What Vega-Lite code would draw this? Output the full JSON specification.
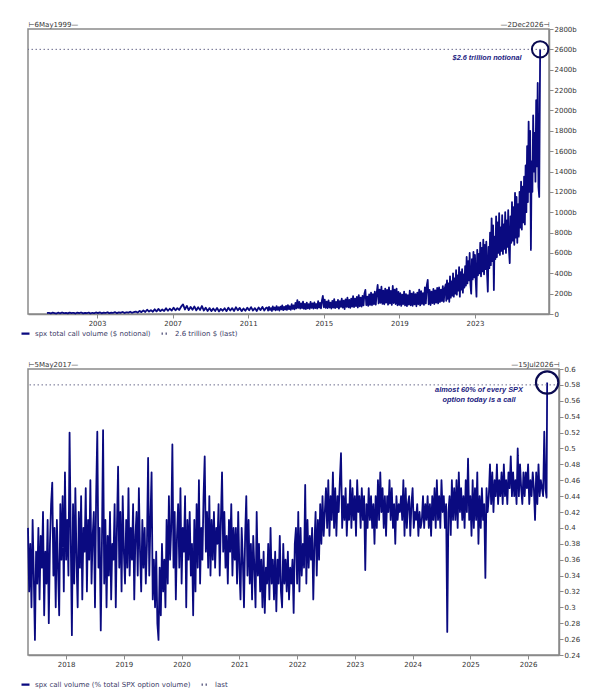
{
"$schema":"https://vega.github.io/schema/vega-lite/v6.json",
"padding":{"left":19,"top":19,"right":0,"bottom":0},
"background":"white",
"spacing":20,
"datasets":{
"top":[{"t":2000.35,"v":8},{"t":2000.45,"v":12},{"t":2000.55,"v":6},{"t":2000.65,"v":14},{"t":2000.75,"v":9},{"t":2000.85,"v":5},{"t":2000.95,"v":13},{"t":2001.05,"v":7},{"t":2001.15,"v":15},{"t":2001.25,"v":8},{"t":2001.35,"v":11},{"t":2001.45,"v":6},{"t":2001.55,"v":14},{"t":2001.65,"v":9},{"t":2001.75,"v":12},{"t":2001.85,"v":5},{"t":2001.95,"v":13},{"t":2002.05,"v":8},{"t":2002.15,"v":15},{"t":2002.25,"v":7},{"t":2002.35,"v":11},{"t":2002.45,"v":9},{"t":2002.55,"v":14},{"t":2002.65,"v":6},{"t":2002.75,"v":12},{"t":2002.85,"v":8},{"t":2002.95,"v":15},
{"t":2003.05,"v":9},{"t":2003.15,"v":16},{"t":2003.25,"v":7},{"t":2003.35,"v":13},{"t":2003.45,"v":10},{"t":2003.55,"v":17},{"t":2003.65,"v":8},{"t":2003.75,"v":14},{"t":2003.85,"v":11},{"t":2003.95,"v":18},{"t":2004.05,"v":9},{"t":2004.15,"v":15},{"t":2004.25,"v":12},{"t":2004.35,"v":20},{"t":2004.45,"v":10},{"t":2004.55,"v":17},{"t":2004.65,"v":13},{"t":2004.75,"v":22},{"t":2004.85,"v":12},{"t":2004.95,"v":19},
{"t":2005.05,"v":24},{"t":2005.15,"v":14},{"t":2005.25,"v":30},{"t":2005.35,"v":18},{"t":2005.45,"v":36},{"t":2005.55,"v":20},{"t":2005.65,"v":42},{"t":2005.75,"v":24},{"t":2005.85,"v":38},{"t":2005.95,"v":22},{"t":2006.05,"v":46},{"t":2006.15,"v":26},{"t":2006.25,"v":50},{"t":2006.35,"v":28},{"t":2006.45,"v":44},{"t":2006.55,"v":30},{"t":2006.65,"v":56},{"t":2006.75,"v":32},{"t":2006.85,"v":52},{"t":2006.95,"v":34},
{"t":2007.05,"v":62},{"t":2007.15,"v":36},{"t":2007.25,"v":58},{"t":2007.35,"v":40},{"t":2007.45,"v":72},{"t":2007.55,"v":95},{"t":2007.65,"v":44},{"t":2007.75,"v":80},{"t":2007.85,"v":38},{"t":2007.95,"v":70},{"t":2008.05,"v":42},{"t":2008.15,"v":74},{"t":2008.25,"v":36},{"t":2008.35,"v":66},{"t":2008.45,"v":40},{"t":2008.55,"v":78},{"t":2008.65,"v":34},{"t":2008.75,"v":62},{"t":2008.85,"v":30},{"t":2008.95,"v":58},
{"t":2009.05,"v":28},{"t":2009.15,"v":54},{"t":2009.25,"v":30},{"t":2009.35,"v":60},{"t":2009.45,"v":26},{"t":2009.55,"v":50},{"t":2009.65,"v":32},{"t":2009.75,"v":56},{"t":2009.85,"v":28},{"t":2009.95,"v":62},{"t":2010.05,"v":34},{"t":2010.15,"v":58},{"t":2010.25,"v":30},{"t":2010.35,"v":66},{"t":2010.45,"v":36},{"t":2010.55,"v":60},{"t":2010.65,"v":28},{"t":2010.75,"v":54},{"t":2010.85,"v":32},{"t":2010.95,"v":62},
{"t":2011.05,"v":36},{"t":2011.15,"v":68},{"t":2011.25,"v":34},{"t":2011.35,"v":58},{"t":2011.45,"v":30},{"t":2011.55,"v":64},{"t":2011.65,"v":38},{"t":2011.75,"v":70},{"t":2011.85,"v":34},{"t":2011.95,"v":62},
{"t":2012,"v":62},{"t":2012.05,"v":34},{"t":2012.1,"v":70},{"t":2012.15,"v":40},{"t":2012.2,"v":58},{"t":2012.25,"v":30},{"t":2012.3,"v":74},{"t":2012.35,"v":44},{"t":2012.4,"v":64},{"t":2012.45,"v":36},{"t":2012.5,"v":78},{"t":2012.55,"v":42},{"t":2012.6,"v":66},{"t":2012.65,"v":34},{"t":2012.7,"v":72},{"t":2012.75,"v":46},{"t":2012.8,"v":84},{"t":2012.85,"v":38},{"t":2012.9,"v":70},{"t":2012.95,"v":44},
{"t":2013,"v":80},{"t":2013.05,"v":40},{"t":2013.1,"v":88},{"t":2013.15,"v":48},{"t":2013.2,"v":76},{"t":2013.25,"v":42},{"t":2013.3,"v":96},{"t":2013.35,"v":50},{"t":2013.4,"v":84},{"t":2013.45,"v":46},{"t":2013.5,"v":110},{"t":2013.55,"v":56},{"t":2013.6,"v":137},{"t":2013.65,"v":60},{"t":2013.7,"v":118},{"t":2013.75,"v":52},{"t":2013.8,"v":104},{"t":2013.85,"v":58},{"t":2013.9,"v":122},{"t":2013.95,"v":50},
{"t":2014,"v":100},{"t":2014.05,"v":48},{"t":2014.1,"v":112},{"t":2014.15,"v":56},{"t":2014.2,"v":96},{"t":2014.25,"v":50},{"t":2014.3,"v":120},{"t":2014.35,"v":60},{"t":2014.4,"v":104},{"t":2014.45,"v":52},{"t":2014.5,"v":114},{"t":2014.55,"v":58},{"t":2014.6,"v":98},{"t":2014.65,"v":54},{"t":2014.7,"v":126},{"t":2014.75,"v":62},{"t":2014.8,"v":110},{"t":2014.85,"v":56},{"t":2014.9,"v":132},{"t":2014.95,"v":177},
{"t":2015,"v":66},{"t":2015.05,"v":140},{"t":2015.1,"v":60},{"t":2015.15,"v":122},{"t":2015.2,"v":58},{"t":2015.25,"v":134},{"t":2015.3,"v":64},{"t":2015.35,"v":112},{"t":2015.4,"v":54},{"t":2015.45,"v":128},{"t":2015.5,"v":62},{"t":2015.55,"v":146},{"t":2015.6,"v":58},{"t":2015.65,"v":120},{"t":2015.7,"v":66},{"t":2015.75,"v":138},{"t":2015.8,"v":52},{"t":2015.85,"v":126},{"t":2015.9,"v":70},{"t":2015.95,"v":150},
{"t":2016,"v":62},{"t":2016.05,"v":132},{"t":2016.1,"v":48},{"t":2016.15,"v":144},{"t":2016.2,"v":70},{"t":2016.25,"v":160},{"t":2016.3,"v":66},{"t":2016.35,"v":138},{"t":2016.4,"v":60},{"t":2016.45,"v":152},{"t":2016.5,"v":72},{"t":2016.55,"v":175},{"t":2016.6,"v":68},{"t":2016.65,"v":150},{"t":2016.7,"v":78},{"t":2016.75,"v":168},{"t":2016.8,"v":64},{"t":2016.85,"v":185},{"t":2016.9,"v":76},{"t":2016.95,"v":160},
{"t":2017,"v":72},{"t":2017.05,"v":178},{"t":2017.1,"v":84},{"t":2017.15,"v":200},{"t":2017.2,"v":236},{"t":2017.25,"v":88},{"t":2017.3,"v":170},{"t":2017.35,"v":80},{"t":2017.4,"v":192},{"t":2017.45,"v":90},{"t":2017.5,"v":210},{"t":2017.55,"v":86},{"t":2017.6,"v":196},{"t":2017.65,"v":96},{"t":2017.7,"v":220},{"t":2017.75,"v":92},{"t":2017.8,"v":206},{"t":2017.85,"v":285},{"t":2017.9,"v":104},{"t":2017.95,"v":240},
{"t":2018,"v":110},{"t":2018.05,"v":268},{"t":2018.1,"v":100},{"t":2018.15,"v":230},{"t":2018.2,"v":96},{"t":2018.25,"v":250},{"t":2018.3,"v":112},{"t":2018.35,"v":236},{"t":2018.4,"v":92},{"t":2018.45,"v":262},{"t":2018.5,"v":104},{"t":2018.55,"v":228},{"t":2018.6,"v":90},{"t":2018.65,"v":275},{"t":2018.7,"v":108},{"t":2018.75,"v":240},{"t":2018.8,"v":98},{"t":2018.85,"v":250},{"t":2018.9,"v":86},{"t":2018.95,"v":218},
{"t":2019,"v":90},{"t":2019.05,"v":204},{"t":2019.1,"v":80},{"t":2019.15,"v":190},{"t":2019.2,"v":96},{"t":2019.25,"v":220},{"t":2019.3,"v":84},{"t":2019.35,"v":196},{"t":2019.4,"v":78},{"t":2019.45,"v":186},{"t":2019.5,"v":92},{"t":2019.55,"v":230},{"t":2019.6,"v":86},{"t":2019.65,"v":200},{"t":2019.7,"v":80},{"t":2019.75,"v":214},{"t":2019.8,"v":94},{"t":2019.85,"v":196},{"t":2019.9,"v":76},{"t":2019.95,"v":210},
{"t":2020,"v":96},{"t":2020.05,"v":240},{"t":2020.1,"v":84},{"t":2020.15,"v":224},{"t":2020.2,"v":100},{"t":2020.25,"v":206},{"t":2020.3,"v":90},{"t":2020.35,"v":262},{"t":2020.4,"v":104},{"t":2020.45,"v":280},{"t":2020.5,"v":334},{"t":2020.55,"v":96},{"t":2020.6,"v":236},{"t":2020.65,"v":88},{"t":2020.7,"v":220},{"t":2020.75,"v":106},{"t":2020.8,"v":246},{"t":2020.85,"v":98},{"t":2020.9,"v":232},{"t":2020.95,"v":112},
{"t":2021,"v":256},{"t":2021.05,"v":104},{"t":2021.1,"v":262},{"t":2021.15,"v":118},{"t":2021.2,"v":240},{"t":2021.25,"v":126},{"t":2021.3,"v":274},{"t":2021.35,"v":120},{"t":2021.4,"v":250},{"t":2021.45,"v":290},
{"t":2021.48,"v":130},{"t":2021.52,"v":330},{"t":2021.56,"v":150},{"t":2021.6,"v":300},{"t":2021.64,"v":120},{"t":2021.68,"v":370},{"t":2021.72,"v":160},{"t":2021.76,"v":320},{"t":2021.8,"v":180},{"t":2021.84,"v":400},{"t":2021.88,"v":170},{"t":2021.92,"v":350},{"t":2021.96,"v":200},{"t":2022,"v":430},{"t":2022.04,"v":190},{"t":2022.08,"v":380},{"t":2022.12,"v":230},{"t":2022.16,"v":460},{"t":2022.2,"v":170},{"t":2022.24,"v":410},{"t":2022.28,"v":240},{"t":2022.32,"v":440},{"t":2022.36,"v":210},{"t":2022.4,"v":390},{"t":2022.44,"v":260},{"t":2022.48,"v":470},{"t":2022.52,"v":280},{"t":2022.56,"v":560},{"t":2022.6,"v":300},{"t":2022.64,"v":520},{"t":2022.68,"v":330},{"t":2022.72,"v":600},{"t":2022.76,"v":290},{"t":2022.8,"v":200},{"t":2022.84,"v":540},{"t":2022.88,"v":340},{"t":2022.92,"v":610},{"t":2022.96,"v":360},{"t":2023,"v":580},{"t":2023.04,"v":330},{"t":2023.08,"v":170},{"t":2023.12,"v":630},{"t":2023.16,"v":380},{"t":2023.2,"v":590},{"t":2023.24,"v":400},{"t":2023.28,"v":700},{"t":2023.32,"v":370},{"t":2023.36,"v":650},{"t":2023.4,"v":420},{"t":2023.44,"v":730},{"t":2023.48,"v":390},{"t":2023.52,"v":680},{"t":2023.56,"v":440},{"t":2023.6,"v":710},{"t":2023.64,"v":400},{"t":2023.68,"v":220},{"t":2023.72,"v":660},{"t":2023.76,"v":450},{"t":2023.8,"v":800},{"t":2023.84,"v":480},{"t":2023.88,"v":940},{"t":2023.92,"v":520},{"t":2023.96,"v":870},{"t":2024,"v":236},{"t":2024.04,"v":760},{"t":2024.08,"v":540},{"t":2024.12,"v":960},{"t":2024.16,"v":560},{"t":2024.2,"v":900},{"t":2024.24,"v":600},{"t":2024.28,"v":990},{"t":2024.32,"v":580},{"t":2024.36,"v":850},{"t":2024.4,"v":620},{"t":2024.44,"v":970},{"t":2024.48,"v":590},{"t":2024.52,"v":880},{"t":2024.56,"v":640},{"t":2024.6,"v":1000},{"t":2024.64,"v":600},{"t":2024.68,"v":920},{"t":2024.72,"v":660},{"t":2024.76,"v":1020},{"t":2024.8,"v":630},{"t":2024.84,"v":500},{"t":2024.88,"v":960},{"t":2024.92,"v":700},{"t":2024.96,"v":1100},{"t":2025,"v":720},{"t":2025.04,"v":1050},{"t":2025.08,"v":680},{"t":2025.12,"v":1190},{"t":2025.16,"v":750},{"t":2025.2,"v":1150},{"t":2025.24,"v":700},{"t":2025.28,"v":1080},{"t":2025.32,"v":760},{"t":2025.36,"v":1200},{"t":2025.4,"v":850},{"t":2025.44,"v":1300},{"t":2025.48,"v":830},{"t":2025.52,"v":1250},{"t":2025.56,"v":900},{"t":2025.6,"v":1350},{"t":2025.64,"v":880},{"t":2025.68,"v":1460},{"t":2025.72,"v":1000},{"t":2025.76,"v":1650},{"t":2025.8,"v":1100},{"t":2025.84,"v":1890},{"t":2025.88,"v":1200},{"t":2025.92,"v":1800},{"t":2025.96,"v":630},{"t":2026,"v":1500},{"t":2026.04,"v":1200},{"t":2026.08,"v":1950},{"t":2026.12,"v":1400},{"t":2026.16,"v":1780},{"t":2026.2,"v":1300},{"t":2026.24,"v":2100},{"t":2026.28,"v":1450},{"t":2026.32,"v":2270},{"t":2026.36,"v":1250},{"t":2026.4,"v":1150},{"t":2026.45,"v":2600}],
"bottom":[{"t":2017.34,"v":0.4},{"t":2017.36,"v":0.32},{"t":2017.38,"v":0.38},{"t":2017.4,"v":0.3},{"t":2017.42,"v":0.41},{"t":2017.44,"v":0.34},{"t":2017.46,"v":0.259},{"t":2017.48,"v":0.37},{"t":2017.5,"v":0.33},{"t":2017.52,"v":0.4},
{"t":2017.54,"v":0.31},{"t":2017.56,"v":0.39},{"t":2017.58,"v":0.35},{"t":2017.6,"v":0.42},{"t":2017.62,"v":0.29},{"t":2017.64,"v":0.37},{"t":2017.66,"v":0.33},{"t":2017.68,"v":0.41},{"t":2017.7,"v":0.28},{"t":2017.72,"v":0.38},
{"t":2017.74,"v":0.43},{"t":2017.76,"v":0.457},{"t":2017.78,"v":0.34},{"t":2017.8,"v":0.4},{"t":2017.82,"v":0.3},{"t":2017.84,"v":0.41},{"t":2017.86,"v":0.35},{"t":2017.88,"v":0.29},{"t":2017.9,"v":0.43},{"t":2017.92,"v":0.36},
{"t":2017.94,"v":0.44},{"t":2017.96,"v":0.32},{"t":2017.98,"v":0.47},{"t":2018,"v":0.36},{"t":2018.02,"v":0.41},{"t":2018.04,"v":0.34},{"t":2018.06,"v":0.52},{"t":2018.08,"v":0.39},{"t":2018.1,"v":0.265},{"t":2018.12,"v":0.43},
{"t":2018.14,"v":0.33},{"t":2018.16,"v":0.45},{"t":2018.18,"v":0.36},{"t":2018.2,"v":0.3},{"t":2018.22,"v":0.42},{"t":2018.24,"v":0.35},{"t":2018.26,"v":0.44},{"t":2018.28,"v":0.31},{"t":2018.3,"v":0.4},{"t":2018.32,"v":0.37},
{"t":2018.34,"v":0.45},{"t":2018.36,"v":0.32},{"t":2018.38,"v":0.41},{"t":2018.4,"v":0.36},{"t":2018.42,"v":0.46},{"t":2018.44,"v":0.33},{"t":2018.46,"v":0.39},{"t":2018.48,"v":0.42},{"t":2018.5,"v":0.3},{"t":2018.52,"v":0.44},
{"t":2018.54,"v":0.521},{"t":2018.56,"v":0.35},{"t":2018.58,"v":0.4},{"t":2018.6,"v":0.271},{"t":2018.62,"v":0.38},{"t":2018.64,"v":0.523},{"t":2018.66,"v":0.33},{"t":2018.68,"v":0.41},{"t":2018.7,"v":0.3},{"t":2018.72,"v":0.39},
{"t":2018.74,"v":0.34},{"t":2018.76,"v":0.42},{"t":2018.78,"v":0.31},{"t":2018.8,"v":0.38},{"t":2018.82,"v":0.36},{"t":2018.84,"v":0.43},{"t":2018.86,"v":0.3},{"t":2018.88,"v":0.4},{"t":2018.9,"v":0.477},{"t":2018.92,"v":0.35},
{"t":2018.94,"v":0.42},{"t":2018.96,"v":0.32},{"t":2018.98,"v":0.44},{"t":2019,"v":0.37},{"t":2019.02,"v":0.33},{"t":2019.04,"v":0.41},{"t":2019.06,"v":0.35},{"t":2019.08,"v":0.45},{"t":2019.1,"v":0.34},{"t":2019.12,"v":0.4},
{"t":2019.14,"v":0.36},{"t":2019.16,"v":0.43},{"t":2019.18,"v":0.31},{"t":2019.2,"v":0.39},{"t":2019.22,"v":0.42},{"t":2019.24,"v":0.34},{"t":2019.26,"v":0.45},{"t":2019.28,"v":0.37},{"t":2019.3,"v":0.32},{"t":2019.32,"v":0.41},
{"t":2019.34,"v":0.35},{"t":2019.36,"v":0.4},{"t":2019.38,"v":0.33},{"t":2019.4,"v":0.38},{"t":2019.42,"v":0.488},{"t":2019.44,"v":0.34},{"t":2019.46,"v":0.41},{"t":2019.48,"v":0.47},{"t":2019.5,"v":0.31},{"t":2019.52,"v":0.36},
{"t":2019.54,"v":0.3},{"t":2019.56,"v":0.37},{"t":2019.58,"v":0.28},{"t":2019.6,"v":0.259},{"t":2019.62,"v":0.35},{"t":2019.64,"v":0.29},{"t":2019.66,"v":0.38},{"t":2019.68,"v":0.32},{"t":2019.7,"v":0.36},{"t":2019.72,"v":0.3},
{"t":2019.74,"v":0.41},{"t":2019.76,"v":0.33},{"t":2019.78,"v":0.44},{"t":2019.8,"v":0.36},{"t":2019.82,"v":0.4},{"t":2019.84,"v":0.505},{"t":2019.86,"v":0.35},{"t":2019.88,"v":0.42},{"t":2019.9,"v":0.31},{"t":2019.92,"v":0.39},
{"t":2019.94,"v":0.43},{"t":2019.96,"v":0.35},{"t":2019.98,"v":0.45},{"t":2020,"v":0.33},{"t":2020.02,"v":0.4},{"t":2020.04,"v":0.37},{"t":2020.06,"v":0.44},{"t":2020.08,"v":0.3},{"t":2020.1,"v":0.41},{"t":2020.12,"v":0.36},
{"t":2020.14,"v":0.42},{"t":2020.16,"v":0.34},{"t":2020.18,"v":0.38},{"t":2020.2,"v":0.29},{"t":2020.22,"v":0.41},{"t":2020.24,"v":0.32},{"t":2020.26,"v":0.43},{"t":2020.28,"v":0.35},{"t":2020.3,"v":0.46},{"t":2020.32,"v":0.33},
{"t":2020.34,"v":0.4},{"t":2020.36,"v":0.36},{"t":2020.38,"v":0.44},{"t":2020.4,"v":0.49},{"t":2020.42,"v":0.37},{"t":2020.44,"v":0.42},{"t":2020.46,"v":0.35},{"t":2020.48,"v":0.44},{"t":2020.5,"v":0.34},{"t":2020.52,"v":0.41},
{"t":2020.54,"v":0.36},{"t":2020.56,"v":0.42},{"t":2020.58,"v":0.35},{"t":2020.6,"v":0.4},{"t":2020.62,"v":0.38},{"t":2020.64,"v":0.43},{"t":2020.66,"v":0.34},{"t":2020.68,"v":0.41},{"t":2020.7,"v":0.47},{"t":2020.72,"v":0.37},
{"t":2020.74,"v":0.42},{"t":2020.76,"v":0.35},{"t":2020.78,"v":0.39},{"t":2020.8,"v":0.33},{"t":2020.82,"v":0.41},{"t":2020.84,"v":0.37},{"t":2020.86,"v":0.43},{"t":2020.88,"v":0.34},{"t":2020.9,"v":0.4},{"t":2020.92,"v":0.36},
{"t":2020.94,"v":0.4},{"t":2020.96,"v":0.33},{"t":2020.98,"v":0.42},{"t":2021,"v":0.35},{"t":2021.02,"v":0.31},{"t":2021.04,"v":0.4},{"t":2021.06,"v":0.36},{"t":2021.08,"v":0.3},{"t":2021.1,"v":0.39},{"t":2021.12,"v":0.44},
{"t":2021.14,"v":0.34},{"t":2021.16,"v":0.41},{"t":2021.18,"v":0.33},{"t":2021.2,"v":0.38},{"t":2021.22,"v":0.31},{"t":2021.24,"v":0.39},{"t":2021.26,"v":0.35},{"t":2021.28,"v":0.3},{"t":2021.3,"v":0.42},{"t":2021.32,"v":0.34},
{"t":2021.34,"v":0.38},{"t":2021.36,"v":0.32},{"t":2021.38,"v":0.36},{"t":2021.4,"v":0.3},{"t":2021.42,"v":0.37},{"t":2021.44,"v":0.293},{"t":2021.46,"v":0.35},{"t":2021.48,"v":0.33},{"t":2021.5,"v":0.38},{"t":2021.52,"v":0.31},
{"t":2021.54,"v":0.4},{"t":2021.56,"v":0.33},{"t":2021.58,"v":0.36},{"t":2021.6,"v":0.31},{"t":2021.62,"v":0.37},{"t":2021.64,"v":0.295},{"t":2021.66,"v":0.36},{"t":2021.68,"v":0.33},{"t":2021.7,"v":0.39},{"t":2021.72,"v":0.32},
{"t":2021.74,"v":0.3},{"t":2021.76,"v":0.38},{"t":2021.78,"v":0.33},{"t":2021.8,"v":0.36},{"t":2021.82,"v":0.32},{"t":2021.84,"v":0.37},{"t":2021.86,"v":0.31},{"t":2021.88,"v":0.35},{"t":2021.9,"v":0.33},{"t":2021.92,"v":0.36},
{"t":2021.94,"v":0.293},{"t":2021.96,"v":0.38},{"t":2021.98,"v":0.4},{"t":2022,"v":0.33},{"t":2022.02,"v":0.42},{"t":2022.04,"v":0.32},{"t":2022.06,"v":0.4},{"t":2022.08,"v":0.34},{"t":2022.1,"v":0.38},{"t":2022.12,"v":0.35},
{"t":2022.14,"v":0.454},{"t":2022.16,"v":0.33},{"t":2022.18,"v":0.41},{"t":2022.2,"v":0.35},{"t":2022.22,"v":0.39},{"t":2022.24,"v":0.36},{"t":2022.26,"v":0.4},{"t":2022.28,"v":0.31},{"t":2022.3,"v":0.38},{"t":2022.32,"v":0.42},
{"t":2022.34,"v":0.34},{"t":2022.36,"v":0.41},{"t":2022.38,"v":0.36},{"t":2022.4,"v":0.43},{"t":2022.42,"v":0.38},{"t":2022.44,"v":0.44},{"t":2022.46,"v":0.39},{"t":2022.48,"v":0.42},{"t":2022.5,"v":0.45},{"t":2022.52,"v":0.4},
{"t":2022.54,"v":0.46},{"t":2022.56,"v":0.39},{"t":2022.58,"v":0.44},{"t":2022.6,"v":0.41},{"t":2022.62,"v":0.47},{"t":2022.64,"v":0.4},{"t":2022.66,"v":0.45},{"t":2022.68,"v":0.39},{"t":2022.7,"v":0.44},{"t":2022.72,"v":0.42},
{"t":2022.74,"v":0.46},{"t":2022.76,"v":0.494},{"t":2022.78,"v":0.4},{"t":2022.8,"v":0.44},{"t":2022.82,"v":0.41},{"t":2022.84,"v":0.45},{"t":2022.86,"v":0.39},{"t":2022.88,"v":0.43},{"t":2022.9,"v":0.41},{"t":2022.92,"v":0.46},
{"t":2022.94,"v":0.4},{"t":2022.96,"v":0.45},{"t":2022.98,"v":0.41},{"t":2023,"v":0.44},{"t":2023.02,"v":0.39},{"t":2023.04,"v":0.46},{"t":2023.06,"v":0.42},{"t":2023.08,"v":0.44},{"t":2023.1,"v":0.4},{"t":2023.12,"v":0.45},
{"t":2023.14,"v":0.41},{"t":2023.16,"v":0.44},{"t":2023.18,"v":0.347},{"t":2023.2,"v":0.43},{"t":2023.22,"v":0.4},{"t":2023.24,"v":0.45},{"t":2023.26,"v":0.41},{"t":2023.28,"v":0.44},{"t":2023.3,"v":0.4},{"t":2023.32,"v":0.43},
{"t":2023.34,"v":0.38},{"t":2023.36,"v":0.44},{"t":2023.38,"v":0.4},{"t":2023.4,"v":0.46},{"t":2023.42,"v":0.41},{"t":2023.44,"v":0.47},{"t":2023.46,"v":0.42},{"t":2023.48,"v":0.45},{"t":2023.5,"v":0.4},{"t":2023.52,"v":0.44},
{"t":2023.54,"v":0.39},{"t":2023.56,"v":0.44},{"t":2023.58,"v":0.42},{"t":2023.6,"v":0.46},{"t":2023.62,"v":0.41},{"t":2023.64,"v":0.45},{"t":2023.66,"v":0.4},{"t":2023.68,"v":0.43},{"t":2023.7,"v":0.38},{"t":2023.72,"v":0.44},
{"t":2023.74,"v":0.41},{"t":2023.76,"v":0.43},{"t":2023.78,"v":0.42},{"t":2023.8,"v":0.44},{"t":2023.82,"v":0.41},{"t":2023.84,"v":0.46},{"t":2023.86,"v":0.39},{"t":2023.88,"v":0.45},{"t":2023.9,"v":0.4},{"t":2023.92,"v":0.43},
{"t":2023.94,"v":0.44},{"t":2023.96,"v":0.39},{"t":2023.98,"v":0.43},{"t":2024,"v":0.45},{"t":2024.02,"v":0.4},{"t":2024.04,"v":0.42},{"t":2024.06,"v":0.41},{"t":2024.08,"v":0.43},{"t":2024.1,"v":0.39},{"t":2024.12,"v":0.42},
{"t":2024.14,"v":0.4},{"t":2024.16,"v":0.41},{"t":2024.18,"v":0.44},{"t":2024.2,"v":0.4},{"t":2024.22,"v":0.43},{"t":2024.24,"v":0.41},{"t":2024.26,"v":0.44},{"t":2024.28,"v":0.4},{"t":2024.3,"v":0.43},{"t":2024.32,"v":0.39},
{"t":2024.34,"v":0.44},{"t":2024.36,"v":0.41},{"t":2024.38,"v":0.45},{"t":2024.4,"v":0.4},{"t":2024.42,"v":0.46},{"t":2024.44,"v":0.41},{"t":2024.46,"v":0.44},{"t":2024.48,"v":0.4},{"t":2024.5,"v":0.46},{"t":2024.52,"v":0.42},
{"t":2024.54,"v":0.44},{"t":2024.56,"v":0.4},{"t":2024.58,"v":0.43},{"t":2024.6,"v":0.269},{"t":2024.62,"v":0.42},{"t":2024.64,"v":0.44},{"t":2024.66,"v":0.39},{"t":2024.68,"v":0.46},{"t":2024.7,"v":0.41},{"t":2024.72,"v":0.45},
{"t":2024.74,"v":0.41},{"t":2024.76,"v":0.46},{"t":2024.78,"v":0.4},{"t":2024.8,"v":0.47},{"t":2024.82,"v":0.42},{"t":2024.84,"v":0.45},{"t":2024.86,"v":0.41},{"t":2024.88,"v":0.44},{"t":2024.9,"v":0.4},{"t":2024.92,"v":0.46},
{"t":2024.94,"v":0.42},{"t":2024.96,"v":0.487},{"t":2024.98,"v":0.41},{"t":2025,"v":0.44},{"t":2025.02,"v":0.39},{"t":2025.04,"v":0.46},{"t":2025.06,"v":0.4},{"t":2025.08,"v":0.45},{"t":2025.1,"v":0.41},{"t":2025.12,"v":0.47},
{"t":2025.14,"v":0.38},{"t":2025.16,"v":0.44},{"t":2025.18,"v":0.4},{"t":2025.2,"v":0.45},{"t":2025.22,"v":0.41},{"t":2025.24,"v":0.43},{"t":2025.26,"v":0.337},{"t":2025.28,"v":0.45},{"t":2025.3,"v":0.42},{"t":2025.32,"v":0.44},
{"t":2025.34,"v":0.48},{"t":2025.36,"v":0.43},{"t":2025.38,"v":0.47},{"t":2025.4,"v":0.42},{"t":2025.42,"v":0.46},{"t":2025.44,"v":0.44},{"t":2025.46,"v":0.48},{"t":2025.48,"v":0.43},{"t":2025.5,"v":0.46},{"t":2025.52,"v":0.44},
{"t":2025.54,"v":0.47},{"t":2025.56,"v":0.43},{"t":2025.58,"v":0.48},{"t":2025.6,"v":0.44},{"t":2025.62,"v":0.46},{"t":2025.64,"v":0.43},{"t":2025.66,"v":0.47},{"t":2025.68,"v":0.45},{"t":2025.7,"v":0.49},{"t":2025.72,"v":0.44},
{"t":2025.74,"v":0.47},{"t":2025.76,"v":0.44},{"t":2025.78,"v":0.46},{"t":2025.8,"v":0.43},{"t":2025.82,"v":0.5},{"t":2025.84,"v":0.44},{"t":2025.86,"v":0.48},{"t":2025.88,"v":0.45},{"t":2025.9,"v":0.43},{"t":2025.92,"v":0.47},
{"t":2025.94,"v":0.44},{"t":2025.96,"v":0.47},{"t":2025.98,"v":0.45},{"t":2026,"v":0.48},{"t":2026.02,"v":0.43},{"t":2026.04,"v":0.46},{"t":2026.06,"v":0.44},{"t":2026.08,"v":0.47},{"t":2026.1,"v":0.45},{"t":2026.12,"v":0.41},
{"t":2026.14,"v":0.47},{"t":2026.16,"v":0.43},{"t":2026.18,"v":0.48},{"t":2026.2,"v":0.44},{"t":2026.22,"v":0.46},{"t":2026.24,"v":0.45},{"t":2026.26,"v":0.44},{"t":2026.28,"v":0.521},{"t":2026.3,"v":0.45},{"t":2026.32,"v":0.438},{"t":2026.33,"v":0.583}]
},
"vconcat":[
{
"width":521,"height":285,
"layer":[
{"data":{"name":"top"},
"mark":{"type":"line","strokeWidth":1.8,"strokeJoin":"round"},
"encoding":{
"x":{"field":"t","type":"quantitative","scale":{"domain":[1999.345,2026.918],"nice":false,"zero":false},"axis":{"orient":"bottom","values":[2003,2007,2011,2015,2019,2023],"tickCount":100,"format":"d","labelPadding":1}},
"y":{"field":"v","type":"quantitative","scale":{"domain":[0,2800],"nice":false},"axis":{"orient":"right","values":[0,200,400,600,800,1000,1200,1400,1600,1800,2000,2200,2400,2600,2800],"tickCount":100,"labelExpr":"datum.value == 0 ? '0' : datum.value + 'b'","labelPadding":1,"labelOverlap":false}},
"color":{"datum":"spx total call volume ($ notional)","scale":{"domain":["spx total call volume ($ notional)","2.6 trillion $ (last)"],"range":["#0a0a80","#6a6a8c"]},"legend":{"orient":"none","legendX":-8,"legendY":299,"direction":"horizontal","title":null}},
"strokeDash":{"datum":"spx total call volume ($ notional)","scale":{"domain":["spx total call volume ($ notional)","2.6 trillion $ (last)"],"range":[[1,0],[1.5,2.5]]},"legend":{"orient":"none","legendX":-8,"legendY":299,"direction":"horizontal","title":null}}
}},
{"data":{"values":[{"v":2600}]},
"mark":{"type":"rule","strokeWidth":1},
"encoding":{"y":{"field":"v","type":"quantitative"},"color":{"datum":"2.6 trillion $ (last)"},"strokeDash":{"datum":"2.6 trillion $ (last)"}}},
{"data":{"values":[{"t":2026.45,"v":2600}]},
"mark":{"type":"point","shape":"circle","size":270,"filled":false,"color":"#0a0a50","strokeWidth":2,"opacity":1},
"encoding":{"x":{"field":"t","type":"quantitative","axis":{"orient":"top","values":[1999.345,2026.918],"tickCount":100,"labelExpr":"datum.value < 2010 ? '⊢6May1999—' : '—2Dec2026⊣'","labelFlush":true,"labelOverlap":false,"domain":false,"ticks":false,"labelPadding":2}},"y":{"field":"v","type":"quantitative"}}},
{"data":{"values":[{"t":2023.64,"v":2512,"label":"$2.6 trillion notional"}]},
"mark":{"type":"text","font":"Liberation Sans","fontSize":7.3,"fontWeight":"bold","fontStyle":"italic","color":"#1a1a80","align":"center","baseline":"middle"},
"encoding":{"x":{"field":"t","type":"quantitative","axis":null},"y":{"field":"v","type":"quantitative"},"text":{"field":"label"}}}
],
"resolve":{"axis":{"x":"independent"}}
},
{
"width":531,"height":286,
"layer":[
{"data":{"name":"bottom"},
"mark":{"type":"line","strokeWidth":1.8,"strokeJoin":"round"},
"encoding":{
"x":{"field":"t","type":"quantitative","scale":{"domain":[2017.34,2026.535],"nice":false,"zero":false},"axis":{"orient":"bottom","values":[2018,2019,2020,2021,2022,2023,2024,2025,2026],"tickCount":100,"format":"d","labelPadding":1}},
"y":{"field":"v","type":"quantitative","scale":{"domain":[0.24,0.6],"nice":false,"zero":false},"axis":{"orient":"right","values":[0.24,0.26,0.28,0.3,0.32,0.34,0.36,0.38,0.4,0.42,0.44,0.46,0.48,0.5,0.52,0.54,0.56,0.58,0.6],"tickCount":100,"format":".2~f","labelPadding":1,"labelOverlap":false}},
"color":{"datum":"spx call volume (% total SPX option volume)","scale":{"domain":["spx call volume (% total SPX option volume)","last"],"range":["#0a0a80","#6a6a8c"]},"legend":{"orient":"none","legendX":-8,"legendY":310,"direction":"horizontal","title":null}},
"strokeDash":{"datum":"spx call volume (% total SPX option volume)","scale":{"domain":["spx call volume (% total SPX option volume)","last"],"range":[[1,0],[1.5,2.5]]},"legend":{"orient":"none","legendX":-8,"legendY":310,"direction":"horizontal","title":null}}
}},
{"data":{"values":[{"v":0.58}]},
"mark":{"type":"rule","strokeWidth":1},
"encoding":{"y":{"field":"v","type":"quantitative"},"color":{"datum":"last"},"strokeDash":{"datum":"last"}}},
{"data":{"values":[{"t":2026.33,"v":0.583}]},
"mark":{"type":"point","shape":"circle","size":500,"filled":false,"color":"#0a0a50","strokeWidth":2.2,"opacity":1},
"encoding":{"x":{"field":"t","type":"quantitative","axis":{"orient":"top","values":[2017.34,2026.535],"tickCount":100,"labelExpr":"datum.value < 2020 ? '⊢5May2017—' : '—15Jul2026⊣'","labelFlush":true,"labelOverlap":false,"domain":false,"ticks":false,"labelPadding":2}},"y":{"field":"v","type":"quantitative"}}},
{"data":{"values":[{"t":2025.15,"v":0.573,"label":"almost 60% of every SPX"},{"t":2025.15,"v":0.5605,"label":"option today is a call"}]},
"mark":{"type":"text","font":"Liberation Sans","fontSize":7.4,"fontWeight":"bold","fontStyle":"italic","color":"#1a1a80","align":"center","baseline":"middle"},
"encoding":{"x":{"field":"t","type":"quantitative","axis":null},"y":{"field":"v","type":"quantitative"},"text":{"field":"label"}}}
],
"resolve":{"axis":{"x":"independent"}}
}
],
"resolve":{"scale":{"x":"independent","y":"independent","color":"independent","strokeDash":"independent"},"legend":{"color":"independent","strokeDash":"independent"}},
"config":{
"view":{"stroke":"#8a8a8a","strokeWidth":1.5},
"axis":{"labelFont":"DejaVu Sans","labelFontSize":7,"labelColor":"#333333","domainColor":"#8a8a8a","domainWidth":1.5,"tickColor":"#8a8a8a","tickSize":4,"tickWidth":1,"grid":false,"title":null},
"legend":{"labelFont":"DejaVu Sans","labelFontSize":7,"labelColor":"#3a3a66","symbolType":"stroke","symbolSize":64,"symbolStrokeWidth":2.2,"labelOffset":4,"columnPadding":6,"title":null,"labelLimit":300}
}
}
